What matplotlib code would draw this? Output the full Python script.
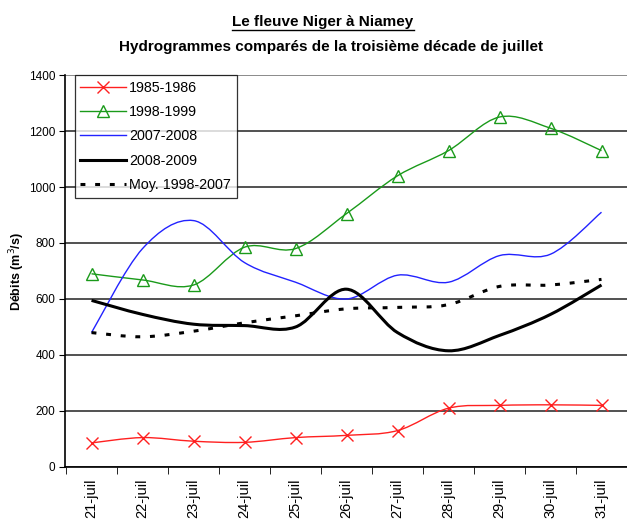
import numpy as np
import matplotlib
matplotlib.use("Agg")
import matplotlib.pyplot as plt
from matplotlib.path import Path
from matplotlib.patches import PathPatch
from matplotlib.lines import Line2D

# ---------------------------------------------------------------------
# Data
# ---------------------------------------------------------------------
days = ["21-juil", "22-juil", "23-juil", "24-juil", "25-juil", "26-juil",
        "27-juil", "28-juil", "29-juil", "30-juil", "31-juil"]

q_1985 = [86, 105, 92, 88, 105, 113, 130, 210, 220, 222, 220]
q_1998 = [690, 668, 650, 785, 780, 905, 1040, 1130, 1250, 1210, 1130]
q_2007 = [480, 780, 880, 730, 660, 600, 685, 660, 755, 760, 910]
q_2008 = [595, 545, 510, 505, 500, 635, 480, 415, 470, 545, 650]
q_moy = [480, 465, 485, 515, 540, 565, 570, 580, 645, 650, 670]

labels = ["1985-1986", "1998-1999", "2007-2008", "2008-2009", "Moy. 1998-2007"]


def smooth_path(x, y):
    """Excel-like smoothed line as cubic Bezier segments."""
    pts = np.column_stack([x, y]).astype(float)
    n = len(pts)
    verts = [pts[0]]
    codes = [Path.MOVETO]
    for i in range(n - 1):
        p0 = pts[i - 1] if i > 0 else pts[i]
        p1 = pts[i]
        p2 = pts[i + 1]
        p3 = pts[i + 2] if i + 2 < n else pts[i + 1]
        c1 = p1 + (p2 - p0) / 6.0
        c2 = p2 - (p3 - p1) / 6.0
        verts += [c1, c2, p2]
        codes += [Path.CURVE4] * 3
    return Path(verts, codes)


plt.rcParams['font.family'] = ['Liberation Sans', 'DejaVu Sans']

fig = plt.figure(figsize=(6.27, 5.22), dpi=100)
ax = fig.add_axes([0.1037, 0.1054, 0.8963, 0.7509])

x = np.arange(len(days))

series = [
    (q_1985, dict(color="#ff2020", lw=1.0), dict(marker="x", ms=8, mew=1.0, mfc="none")),
    (q_1998, dict(color="#1a9a1a", lw=1.0), dict(marker="^", ms=8, mew=1.0, mfc="none")),
    (q_2007, dict(color="#2222ff", lw=1.0), None),
    (q_2008, dict(color="black", lw=2.2), None),
    (q_moy, dict(color="black", lw=2.2, linestyle=(0, (1.6, 3.2))), None),
]

handles = []
for (vals, lstyle, mstyle), lab in zip(series, labels):
    patch = PathPatch(smooth_path(x, vals), fill=False, edgecolor=lstyle["color"],
                      lw=lstyle["lw"], linestyle=lstyle.get("linestyle", "-"),
                      capstyle="butt", zorder=3)
    ax.add_patch(patch)
    if mstyle:
        ax.plot(x, vals, ls="none", color=lstyle["color"], mec=lstyle["color"],
                zorder=4, **mstyle)
        handles.append(Line2D([], [], color=lstyle["color"], lw=lstyle["lw"],
                              mec=lstyle["color"], **mstyle))
    else:
        handles.append(Line2D([], [], color=lstyle["color"], lw=lstyle["lw"],
                              linestyle=lstyle.get("linestyle", "-")))

# axes
ax.set_xlim(-0.52, 10.33)
ax.set_ylim(0, 1400)
ax.set_yticks(np.arange(0, 1401, 200))
ax.tick_params(axis="y", labelsize=8.5, length=4, direction="out", pad=3)
ax.set_xticks(x)
ax.set_xticklabels(days, rotation=90, fontsize=10.5)
ax.tick_params(axis="x", length=0, pad=8)
ax.set_xticks(np.arange(-0.5, 10.6, 1.0), minor=True)
ax.tick_params(axis="x", which="minor", length=5, direction="out")

ax.grid(axis="y", color="#222222", lw=1.1)
ax.set_axisbelow(True)
for side in ("top", "right"):
    ax.spines[side].set_visible(False)
ax.spines["left"].set_linewidth(1.2)
ax.spines["bottom"].set_linewidth(1.2)
ax.axhline(1400, color="#999999", lw=1.2, zorder=1)

ax.set_ylabel("Débits (m$^3$/s)", fontsize=9, fontweight="bold", labelpad=1)

leg = ax.legend(handles, labels, loc="upper left", bbox_to_anchor=(0.017, 1.0),
                fontsize=10.3, frameon=True, fancybox=False,
                edgecolor="black", handlelength=3.2, handletextpad=0.2,
                borderpad=0.4, labelspacing=0.72, borderaxespad=0.0)
leg.get_frame().set_linewidth(0.9)

# titles
t1 = fig.text(0.515, 0.958, "Le fleuve Niger à Niamey", ha="center", va="center",
              fontsize=11, fontweight="bold")
fig.text(0.528, 0.91, "Hydrogrammes comparés de la troisième décade de juillet",
         ha="center", va="center", fontsize=11, fontweight="bold")

# underline first title line
fig.canvas.draw()
bb = t1.get_window_extent().transformed(fig.transFigure.inverted())
fig.add_artist(Line2D([bb.x0, bb.x1], [bb.y0 - 0.002, bb.y0 - 0.002],
                      color="black", lw=1.0, transform=fig.transFigure))

fig.savefig("out.png", dpi=100)
